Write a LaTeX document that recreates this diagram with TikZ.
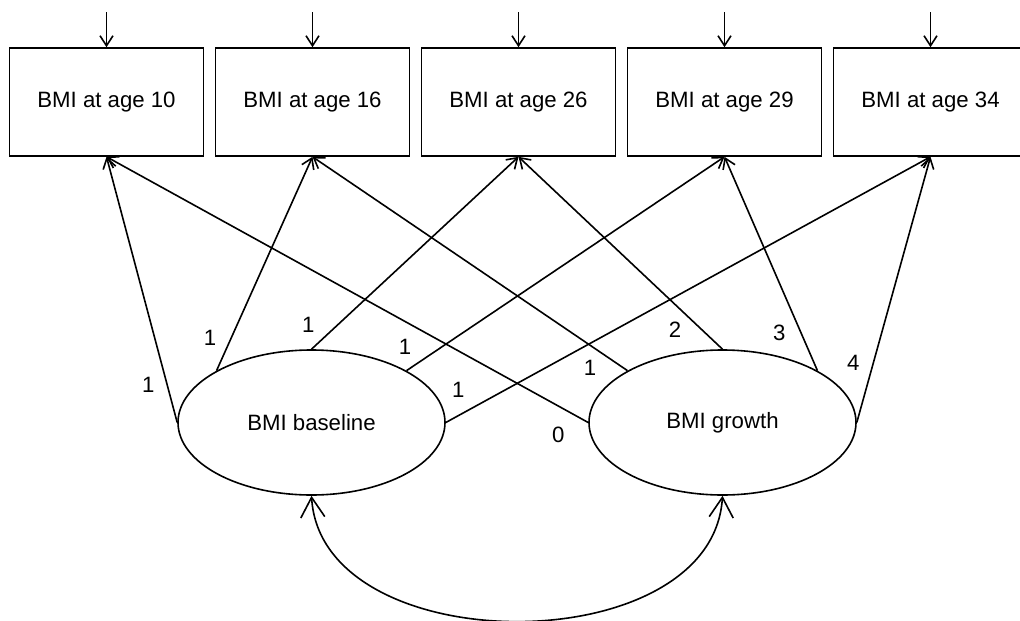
\documentclass[tikz,border=0pt]{standalone}
\usepackage{fontspec}
\setmainfont{Liberation Sans}
\usetikzlibrary{arrows.meta,shapes.geometric}
\begin{document}
\begin{tikzpicture}[x=1pt,y=-1pt,
  line width=1.6pt,
  every node/.style={font=\fontsize{22.2}{26}\selectfont},
  obs/.style={draw,rectangle,minimum width=194pt,minimum height=108pt,inner sep=0pt},
  latent/.style={draw,ellipse,minimum width=267pt,minimum height=145pt,inner sep=0pt},
  path/.style={-{Straight Barb[length=10pt,width=13pt]}},
  cov/.style={{Straight Barb[length=20pt,width=24pt]}-{Straight Barb[length=20pt,width=24pt]}},
  coef/.style={inner sep=0pt}]
\useasboundingbox (0,0) rectangle (1020,621);
\clip (0,0) rectangle (1020,621);

% observed measures
\node[obs] (y10) at (106.5,102) {BMI at age 10};
\node[obs] (y16) at (312.5,102) {BMI at age 16};
\node[obs] (y26) at (518.5,102) {BMI at age 26};
\node[obs] (y29) at (724.5,102) {BMI at age 29};
\node[obs] (y34) at (930.5,102) {BMI at age 34};

% residual arrows
\foreach \v/\x in {y10/106.5,y16/312.5,y26/518.5,y29/724.5,y34/930.5}{
  \coordinate (e\v) at (\x,12);
  \draw[path] (e\v) -- (\v.north);
}

% latent growth factors
\node[latent] (base) at (311.5,422.5) {BMI baseline};
\node[latent] (grow) at (722.5,422.5) {BMI growth};

% loadings of the baseline factor
\draw[path] (base.west) -- (y10.south);
\draw[path] (base.north west) -- (y16.south);
\draw[path] (base.north) -- (y26.south);
\draw[path] (base.north east) -- (y29.south);
\draw[path] (base.east) -- (y34.south);

% loadings of the growth factor
\draw[path] (grow.west) -- (y10.south);
\draw[path] (grow.north west) -- (y16.south);
\draw[path] (grow.north) -- (y26.south);
\draw[path] (grow.north east) -- (y29.south);
\draw[path] (grow.east) -- (y34.south);

% loading values
\node[coef] at (148.3,385) {1};
\node[coef] at (210,338.3) {1};
\node[coef] at (308.3,325) {1};
\node[coef] at (405,346.7) {1};
\node[coef] at (458.3,390) {1};
\node[coef] at (558.3,435) {0};
\node[coef] at (590,368.3) {1};
\node[coef] at (675,330) {2};
\node[coef] at (779.3,333.3) {3};
\node[coef] at (853.3,363.3) {4};

% factor covariance
\draw[cov] (base.south) .. controls +(10,167) and +(-10,167) .. (grow.south);
\end{tikzpicture}
\end{document}
